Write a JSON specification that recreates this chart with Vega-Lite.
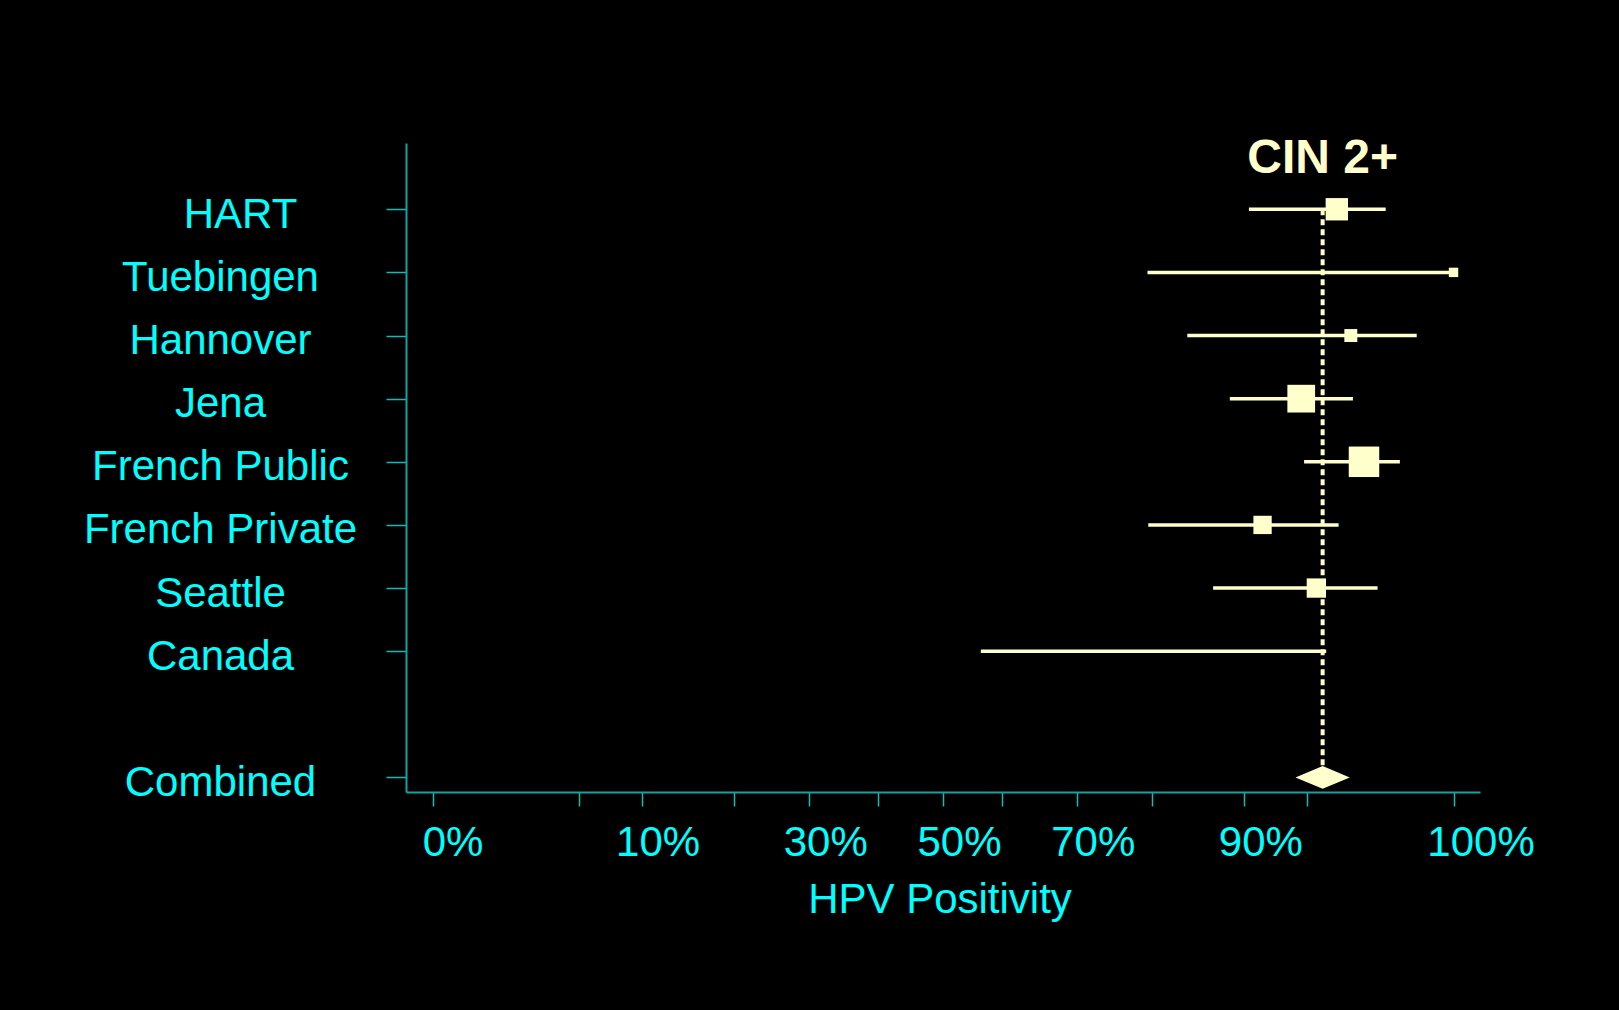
{
  "$schema": "https://vega.github.io/schema/vega-lite/v6.json",
  "width": 1074,
  "height": 649,
  "autosize": {"type": "none"},
  "padding": {"left": 406, "top": 143, "right": 139, "bottom": 218},
  "background": "#000000",
  "config": {"view": {"stroke": null}, "font": "Liberation Sans"},
  "data": {
    "values": [
      {"study": "HART", "estimate": 96.8, "lower": 90.4, "upper": 98.9, "weight": 15.8},
      {"study": "Tuebingen", "estimate": 100, "lower": 79.4, "upper": 100, "weight": 2.8},
      {"study": "Hannover", "estimate": 97.5, "lower": 84.1, "upper": 99.6, "weight": 5.3},
      {"study": "Jena", "estimate": 94.6, "lower": 88.6, "upper": 97.6, "weight": 24.3},
      {"study": "French Public", "estimate": 98.1, "lower": 94.8, "upper": 99.3, "weight": 29.4},
      {"study": "French Private", "estimate": 91.6, "lower": 79.5, "upper": 96.9, "weight": 10.6},
      {"study": "Seattle", "estimate": 95.6, "lower": 86.9, "upper": 98.6, "weight": 11.8},
      {"study": "Canada", "estimate": null, "lower": 55.8, "upper": 96.2, "weight": null},
      {"study": "Combined", "estimate": 96.0, "lower": 94.2, "upper": 97.4, "weight": null}
    ]
  },
  "encoding": {
    "y": {
      "field": "study",
      "type": "nominal",
      "scale": {
        "type": "point",
        "domain": ["HART", "Tuebingen", "Hannover", "Jena", "French Public", "French Private", "Seattle", "Canada", " ", "Combined"],
        "padding": 0.64,
        "align": 0.82
      },
      "axis": {
        "title": null,
        "values": ["HART", "Tuebingen", "Hannover", "Jena", "French Public", "French Private", "Seattle", "Canada", "Combined"],
        "grid": false,
        "domainColor": "#13A3A3",
        "domainWidth": 2,
        "tickColor": "#16B8B8",
        "tickWidth": 1.5,
        "tickSize": 20,
        "labelColor": "#00FFFF",
        "labelFontSize": 42,
        "labelAlign": "center",
        "labelBaseline": "alphabetic",
        "labelOffset": 18,
        "labelPadding": {"condition": {"test": "datum.value === 'HART'", "value": 146}, "value": 166},
        "labelLimit": 0,
        "labelOverlap": false
      }
    }
  },
  "layer": [
    {
      "transform": [{"filter": "datum.study !== 'Combined'"}],
      "mark": {"type": "rule", "color": "#FFFFCC", "strokeWidth": 3.5},
      "encoding": {
        "x": {
          "field": "lower",
          "type": "quantitative",
          "scale": {
            "type": "linear",
            "domain": [-2, 0, 5, 10, 20, 30, 40, 50, 55, 60, 65, 70, 75, 80, 85, 88, 90, 92, 94, 95, 96, 97, 98, 99, 99.5, 100, 101.5],
            "range": [0, 26.5, 173.08, 235.64, 327.87, 403.27, 471.57, 537.01, 569.57, 602.45, 636.04, 670.75, 707.18, 746.15, 789.02, 817.59, 838.38, 861.1, 886.66, 900.94, 916.64, 934.37, 955.28, 982.41, 1001.52, 1047.52, 1074],
            "nice": false,
            "zero": false
          },
          "axis": {
            "title": "HPV Positivity",
            "values": [0, 5, 10, 20, 30, 40, 50, 59, 70, 80, 90, 95, 100],
            "labelExpr": "indexof([0, 10, 30, 50, 70, 90, 100], datum.value) >= 0 ? datum.value + '%' : ''",
            "grid": false,
            "domainColor": "#13A3A3",
            "domainWidth": 2,
            "tickColor": "#16B8B8",
            "tickWidth": 1.5,
            "tickSize": 14,
            "labelColor": "#00FFFF",
            "labelFontSize": 42,
            "labelPadding": 16,
            "labelOffset": {
              "condition": [
                {"test": "datum.value === 0", "value": 20},
                {"test": "datum.value === 100", "value": 27}
              ],
              "value": 16
            },
            "labelFlush": false,
            "labelOverlap": false,
            "labelBound": false,
            "titleColor": "#00FFFF",
            "titleFontSize": 42,
            "titleFontWeight": "normal",
            "titleAlign": "center",
            "titleBaseline": "alphabetic",
            "titleX": 533.5,
            "titleY": 120
          }
        },
        "x2": {"field": "upper"}
      }
    },
    {
      "transform": [{"filter": "datum.study === 'Combined'"}],
      "mark": {"type": "rule", "color": "#FFFFCC", "strokeWidth": 4, "strokeDash": [6, 4]},
      "encoding": {
        "x": {"field": "estimate", "type": "quantitative"},
        "y": {"datum": "HART", "type": "nominal"},
        "y2": {"field": "study"}
      }
    },
    {
      "transform": [{"filter": "datum.study !== 'Combined' && isValid(datum.estimate)"}],
      "mark": {"type": "point", "shape": "square", "filled": true, "color": "#FFFFCC", "opacity": 1},
      "encoding": {
        "x": {"field": "estimate", "type": "quantitative"},
        "size": {
          "field": "weight",
          "type": "quantitative",
          "scale": {"type": "linear", "domain": [0, 29.4], "range": [0, 930]},
          "legend": null
        }
      }
    },
    {
      "transform": [{"filter": "datum.study === 'Combined'"}],
      "mark": {
        "type": "point",
        "shape": "M-1,0L0,-0.42L1,0L0,0.42Z",
        "filled": true,
        "color": "#FFFFCC",
        "opacity": 1,
        "size": 2950
      },
      "encoding": {
        "x": {"field": "estimate", "type": "quantitative"}
      }
    },
    {
      "transform": [{"filter": "datum.study === 'Combined'"}],
      "mark": {
        "type": "text",
        "text": "CIN 2+",
        "fontSize": 48,
        "fontWeight": "bold",
        "color": "#FFFFCC",
        "align": "center",
        "baseline": "alphabetic",
        "dy": -36
      },
      "encoding": {
        "x": {"field": "estimate", "type": "quantitative"},
        "y": {"datum": "HART", "type": "nominal"}
      }
    }
  ]
}
